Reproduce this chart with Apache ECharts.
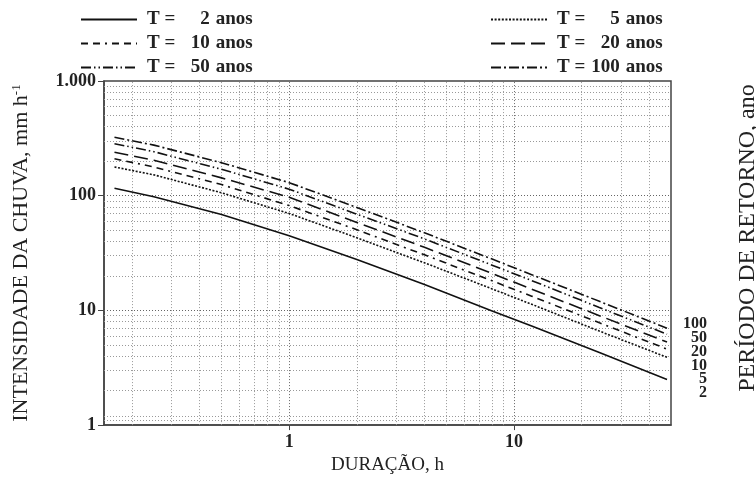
<!DOCTYPE html>
<html>
<head>
<meta charset="utf-8">
<script src="https://cdn.jsdelivr.net/npm/echarts@6/dist/echarts.min.js"></script>
<style>
  html, body { margin: 0; padding: 0; background: #fff; }
  #chartmain { width: 756px; height: 480px; }
</style>
</head>
<body>
<div id="chartmain"></div>
<script>
// duração (h) e intensidade (mm/h)
var duracao = [0.167, 0.25, 0.5, 1, 2, 4, 8, 12, 24, 48];
var t2   = [116, 98, 68.7, 44.8, 27.8, 16.8, 9.9, 7.3, 4.3, 2.5];
var t5   = [178, 152, 106, 70, 43, 26, 15.4, 11.3, 6.6, 3.9];
var t10  = [210, 178, 125, 82, 50.5, 30.5, 18.1, 13.3, 7.8, 4.6];
var t20  = [239, 204, 143, 97, 58.5, 35.5, 21, 15.3, 9.0, 5.3];
var t50  = [284, 242, 170, 114, 69, 42, 24.8, 18.2, 10.6, 6.2];
var t100 = [323, 276, 194, 130, 79, 47.5, 28, 20.5, 12.0, 7.0];

var periodos = [2, 5, 10, 20, 50, 100];
var rotulosDireita = ['100', '50', '20', '10', '5', '2'];

// linhas de grade (escala log)
var gradeX = [0.2, 0.3, 0.4, 0.5, 0.6, 0.7, 0.8, 0.9, 1, 2, 3, 4, 5, 6, 7, 8, 9, 10, 20, 30, 40];
var gradeY = [1.1, 1.2, 2, 3, 4, 5, 6, 7, 8, 9, 10, 20, 30, 40, 50, 60, 70, 80, 90, 100,
              200, 300, 400, 500, 600, 700, 800, 900];
var ticksX = [1, 10];

var serif = '"Liberation Serif", "DejaVu Serif", serif';

function pares(vals) {
    return duracao.map(function (d, i) { return [d, vals[i]]; });
}

var estilos = [
    'solid',
    [2, 1.6],
    [7, 5, 7, 5, 2, 5],
    [14, 6],
    [10, 3, 1.5, 3, 1.5, 3],
    [10, 3, 2, 3]
];
var valores = [t2, t5, t10, t20, t50, t100];

var series = periodos.map(function (p, i) {
    return {
        name: 'T = ' + p + ' anos',
        type: 'line',
        symbol: 'none',
        smooth: false,
        z: 3,
        itemStyle: { color: '#111' },
        lineStyle: { color: '#111', width: 1.6, type: estilos[i] },
        data: pares(valores[i])
    };
});

// série vazia só para as linhas de grade pontilhadas
var marcas = [];
gradeX.forEach(function (v) {
    marcas.push({ xAxis: v, lineStyle: { color: (v == 1 || v == 10) ? '#666' : '#999' } });
});
gradeY.forEach(function (v) {
    marcas.push({ yAxis: v, lineStyle: { color: (v == 10 || v == 100) ? '#666' : '#999' } });
});
series.push({
    name: 'grade',
    type: 'line',
    data: [],
    z: 1,
    markLine: {
        silent: true,
        z: 1,
        symbol: ['none', 'none'],
        label: { show: false },
        lineStyle: { type: [1, 2], width: 1, color: '#999' },
        data: marcas
    }
});

// número alinhado à direita: recuo conforme a quantidade de dígitos
function fmtLegenda(name) {
    var n = name.replace('T = ', '').replace(' anos', '');
    return '{t|T =}{n' + n.length + '|' + n + '}{a|anos}';
}
var fonteLeg = { fontFamily: serif, fontWeight: 'bold', fontSize: 19, color: '#222' };
var richLegenda = {
    t:  Object.assign({ padding: [0, 0, 0, 5] }, fonteLeg),
    n1: Object.assign({ padding: [0, 0, 0, 25] }, fonteLeg),
    n2: Object.assign({ padding: [0, 0, 0, 15.5] }, fonteLeg),
    n3: Object.assign({ padding: [0, 0, 0, 6] }, fonteLeg),
    a:  Object.assign({ padding: [0, 0, 0, 6] }, fonteLeg)
};

var nomes = series.slice(0, 6).map(function (s) { return s.name; });

var legendaBase = {
    orient: 'vertical',
    top: 10, padding: 0,
    itemWidth: 56, itemHeight: 14, itemGap: 5,
    itemStyle: { opacity: 0 },
    formatter: fmtLegenda,
    textStyle: { rich: richLegenda }
};

var option = {
    animation: false,
    backgroundColor: '#fff',
    legend: [
        Object.assign({}, legendaBase, { data: [nomes[0], nomes[2], nomes[4]], left: 80 }),
        Object.assign({}, legendaBase, { data: [nomes[1], nomes[3], nomes[5]], left: 490 })
    ],
    grid: {
        left: 104, right: 85, top: 81, bottom: 46,
        show: true, borderColor: '#444', borderWidth: 1.5
    },
    xAxis: {
        type: 'log', logBase: 10, min: 0.15, max: 50,
        name: 'DURAÇÃO, h', nameLocation: 'middle', nameGap: 24,
        nameTextStyle: { fontFamily: serif, fontSize: 19, color: '#222' },
        axisLine: { lineStyle: { color: '#444', width: 1.5 } },
        axisTick: { show: true, inside: false, length: 5, customValues: ticksX, lineStyle: { color: '#444' } },
        axisLabel: {
            customValues: ticksX, margin: 8,
            fontFamily: serif, fontWeight: 'bold', fontSize: 18, color: '#222',
            formatter: function (v) { return (v == 1 || v == 10) ? String(v) : ''; }
        },
        splitLine: { show: false }
    },
    yAxis: {
        type: 'log', logBase: 10, min: 1, max: 1000,
        name: '{n|INTENSIDADE DA CHUVA, mm h}{s|-1}',
        nameLocation: 'middle', nameGap: 71, nameRotate: 90,
        nameTextStyle: {
            rich: {
                n: { fontFamily: serif, fontSize: 22, color: '#222' },
                s: { fontFamily: serif, fontSize: 13, color: '#222', verticalAlign: 'top', padding: [0, 0, 10, 0] }
            }
        },
        axisLine: { lineStyle: { color: '#444', width: 1.5 } },
        axisTick: { show: true, inside: false, length: 6, lineStyle: { color: '#444' } },
        axisLabel: {
            margin: 8,
            fontFamily: serif, fontWeight: 'bold', fontSize: 18, color: '#222',
            formatter: function (v) { return v == 1000 ? '1.000' : String(v); }
        },
        splitLine: { show: false }
    },
    graphic: rotulosDireita.map(function (t, i) {
        return {
            type: 'text', right: 49, top: 316 + i * 13.8,
            style: { text: t, fontFamily: serif, fontWeight: 'bold', fontSize: 16, fill: '#222', textAlign: 'right' }
        };
    }).concat([{
        type: 'text', x: 748, y: 238, rotation: Math.PI / 2,
        style: {
            text: 'PERÍODO DE RETORNO, ano', fontFamily: serif, fontSize: 24, fill: '#222',
            textAlign: 'center', textVerticalAlign: 'middle'
        }
    }]),
    series: series
};

//初始化
var myChart = echarts.init(document.getElementById('chartmain'));
myChart.setOption(option);
</script>
</body>
</html>
